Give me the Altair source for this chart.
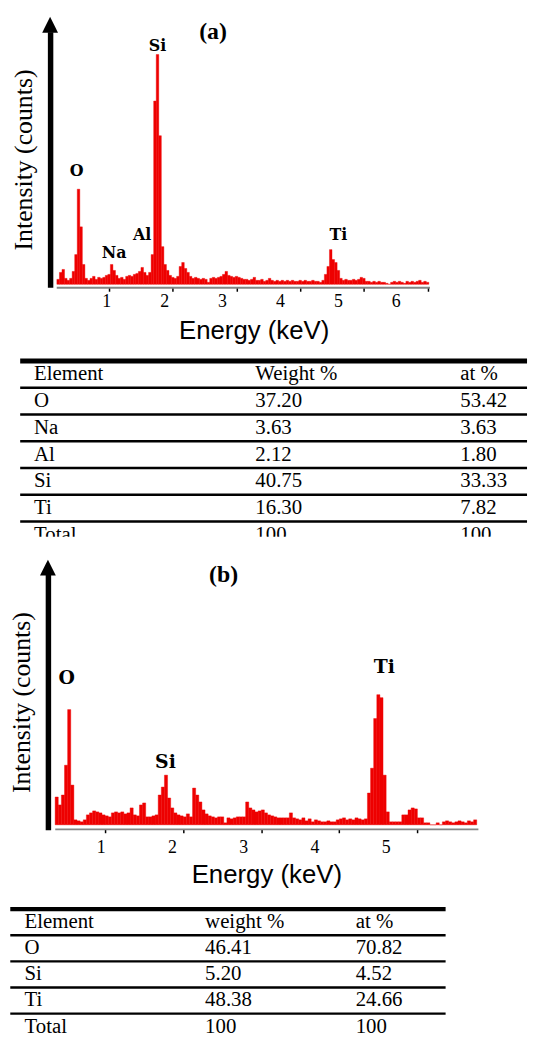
import altair as alt
import pandas as pd

RED = "#ee0000"
SERIF = "Liberation Serif"
SANS = "Liberation Sans"
PEAKFONT = "DejaVu Serif"

# ---------------- Spectrum (a) ----------------
a_e_start = 0.18      # keV, first channel
a_step = 0.04         # keV per channel
a_counts = [
    5, 12, 15, 6, 4, 6, 13, 30, 96, 58,
    20, 6, 4, 6, 8, 5, 7, 6, 7, 9,
    10, 20, 14, 9, 6, 7, 5, 8, 9, 8,
    10, 11, 13, 17, 12, 9, 12, 30, 185, 232,
    150, 38, 20, 14, 9, 7, 6, 8, 18, 22,
    16, 12, 8, 6, 7, 6, 5, 6, 5, 2,
    6, 7, 6, 7, 8, 10, 13, 9, 8, 7,
    8, 7, 6, 5, 5, 4, 5, 7, 4, 4,
    5, 3, 4, 6, 4, 3, 4, 3, 4, 3,
    4, 3, 4, 3, 3, 4, 3, 4, 3, 3,
    4, 3, 3, 2, 4, 10, 18, 35, 25, 22,
    14, 6, 4, 5, 4, 4, 5, 4, 5, 7,
    6, 3, 3, 2, 3, 2, 3, 2, 2, 1,
    0, 2, 3, 2, 3, 2, 1, 3, 2, 3,
    2, 3, 4, 2, 3, 2,
]
a_peak_labels = ["O", "Na", "Al", "Si", "Ti"]
a_peak_energy = [0.49, 1.08, 1.52, 1.76, 4.60]
a_peak_height = [114, 32, 50, 241, 50]
a_tick_labels = [1, 2, 3, 4, 5, 6]

# ---------------- Spectrum (b) ----------------
b_e_start = 0.36
b_step = 0.04
b_counts = [
    28, 20, 30, 60, 116, 40, 5, 4, 3, 5,
    10, 12, 14, 13, 12, 10, 9, 8, 12, 13,
    12, 13, 11, 12, 17, 10, 9, 20, 22, 8,
    8, 9, 10, 30, 38, 50, 27, 17, 12, 10,
    9, 8, 11, 8, 37, 30, 23, 15, 11, 9,
    8, 7, 8, 8, 2, 7, 6, 7, 8, 8,
    8, 23, 17, 15, 13, 14, 15, 12, 10, 9,
    8, 7, 7, 7, 7, 12, 7, 6, 5, 7,
    4, 6, 3, 5, 4, 3, 3, 4, 3, 3,
    5, 6, 7, 5, 6, 5, 7, 6, 5, 6,
    32, 57, 107, 131, 128, 50, 13, 3, 3, 3,
    3, 10, 10, 15, 17, 16, 7, 7, 2, 2,
    0, 0, 2, 0, 3, 4, 3, 2, 3, 4,
    3, 2, 4, 3, 5,
]
b_peak_labels = ["O", "Si", "Ti"]
b_peak_energy = [0.507, 1.773, 4.576]
b_peak_height = [148, 63, 159]
b_tick_labels = [1, 2, 3, 4, 5]

# ---------------- Tables ----------------
table_a_header = ["Element", "Weight %", "at %"]
table_a_elements = ["O", "Na", "Al", "Si", "Ti", "Total"]
table_a_weight = ["37.20", "3.63", "2.12", "40.75", "16.30", "100"]
table_a_at = ["53.42", "3.63", "1.80", "33.33", "7.82", "100"]

table_b_header = ["Element", "weight %", "at %"]
table_b_elements = ["O", "Si", "Ti", "Total"]
table_b_weight = ["46.41", "5.20", "48.38", "100"]
table_b_at = ["70.82", "4.52", "24.66", "100"]

W = 522
ARROW = "M0,-1L1,1L-1,1Z"


def spectrum_panel(counts, e_start, step, peak_lab, peak_e, peak_h, ticks,
                   xdom, xrng, ydom, yrng, height, x_axis_offset, arrow_x,
                   arrow_y, tag, tag_xy, title_x, title_y, tick_rng, tick_y,
                   peak_size):
    e0 = [round(e_start + step * i, 3) for i in range(len(counts))]
    df = pd.DataFrame({"E0": e0, "E1": [e + step for e in e0], "I": counts})
    xs = alt.Scale(domain=xdom, range=xrng, nice=False, zero=False)
    ys = alt.Scale(domain=ydom, range=yrng, nice=False, zero=False)

    spec = alt.Chart(df).mark_rect(color=RED, stroke=RED, strokeWidth=0.4).encode(
        x=alt.X("E0:Q", scale=xs, axis=alt.Axis(
            values=ticks, labels=False, grid=False, ticks=True, tickSize=4,
            tickColor="black", tickWidth=1.5, domainColor="#858585",
            domainWidth=1.8, offset=x_axis_offset, title="Energy (keV)",
            titleFont=SANS, titleFontSize=26, titleFontWeight="normal",
            titleColor="black", titleX=title_x, titleY=title_y,
            titleBaseline="alphabetic", titleAlign="center")),
        x2="E1:Q",
        y=alt.Y("I:Q", scale=ys, axis=alt.Axis(
            labels=False, ticks=False, grid=False, domainColor="black",
            domainWidth=5.5, offset=-arrow_x, title="Intensity (counts)",
            titleFont=SERIF, titleFontSize=26, titleFontWeight="normal",
            titleColor="black", titlePadding=14)),
        y2=alt.datum(0),
    )

    pk = pd.DataFrame({"el": peak_lab, "E": peak_e, "h": peak_h})
    peaks = alt.Chart(pk).mark_text(
        font=PEAKFONT, fontSize=peak_size, fontWeight="bold", color="black",
        baseline="middle", align="center").encode(
        x=alt.X("E:Q", scale=xs, axis=None),
        y=alt.Y("h:Q", scale=ys, axis=None),
        text="el:N")

    one = pd.DataFrame({"k": [0]})
    head = alt.Chart(one).mark_point(
        shape=ARROW, size=256, filled=True, color="black", opacity=1,
        strokeWidth=0).encode(x=alt.value(arrow_x), y=alt.value(arrow_y))

    lab = alt.Chart(one).mark_text(
        text=tag, font=SERIF, fontSize=24, fontWeight="bold", color="black",
        baseline="middle", align="center").encode(
        x=alt.value(tag_xy[0]), y=alt.value(tag_xy[1]))

    tk = pd.DataFrame({"v": ticks})
    tlab = alt.Chart(tk).mark_text(
        font=SERIF, fontSize=18, color="black", baseline="middle",
        align="center").encode(
        x=alt.X("v:Q", scale=alt.Scale(domain=[ticks[0], ticks[-1]],
                                       range=tick_rng, nice=False, zero=False),
                axis=None),
        y=alt.value(tick_y),
        text="v:N")

    return alt.layer(spec, peaks, head, lab, tlab).resolve_scale(
        x="independent", y="independent").properties(width=W, height=height)


def table_panel(header, elements, weight, at, row_rng, col_x, line_x, height,
                top_w):
    n = len(elements) + 1
    rows = list(range(n))
    df = pd.DataFrame({"row": rows,
                       "c0": [header[0]] + elements,
                       "c1": [header[1]] + weight,
                       "c2": [header[2]] + at})
    ys = alt.Scale(domain=[0, n - 1], range=row_rng, nice=False, zero=False)
    layers = []
    top = alt.Chart(pd.DataFrame({"b": [-0.5]})).mark_rule(
        color="black", strokeWidth=top_w).encode(
        x=alt.value(line_x[0]), x2=alt.value(line_x[1]),
        y=alt.Y("b:Q", scale=ys, axis=None))
    inner = alt.Chart(pd.DataFrame({"b": [r + 0.5 for r in rows[:-1]]})).mark_rule(
        color="black", strokeWidth=2.5).encode(
        x=alt.value(line_x[0]), x2=alt.value(line_x[1]),
        y=alt.Y("b:Q", scale=ys, axis=None))
    layers += [top, inner]
    for i, cx in enumerate(col_x):
        layers.append(alt.Chart(df).mark_text(
            font=SERIF, fontSize=21, color="black", align="left",
            baseline="middle", clip=True).encode(
            x=alt.value(cx), y=alt.Y("row:Q", scale=ys, axis=None),
            text=f"c{i}:N"))
    return alt.layer(*layers).properties(width=W, height=height)


p1 = spectrum_panel(
    a_counts, a_e_start, a_step, a_peak_labels, a_peak_energy, a_peak_height,
    a_tick_labels, xdom=[0.17, 6.03], xrng=[46.7, 423.5], ydom=[-3, 255],
    yrng=[277, 19], height=340, x_axis_offset=-63, arrow_x=40.5, arrow_y=12,
    tag="(a)", tag_xy=(205, 19), title_x=246, title_y=52,
    tick_rng=[97.7, 390], tick_y=292, peak_size=16)

p2 = table_panel(table_a_header, table_a_elements, table_a_weight, table_a_at,
                 row_rng=[25, 187], col_x=[24.3, 247.7, 454.6],
                 line_x=[10.3, 522], height=189, top_w=5)

p3 = spectrum_panel(
    b_counts, b_e_start, b_step, b_peak_labels, b_peak_energy, b_peak_height,
    b_tick_labels, xdom=[0.355, 5.775], xrng=[45.2, 472.4], ydom=[-5, 252],
    yrng=[295.7, 38], height=362, x_axis_offset=-67.3, arrow_x=38.3, arrow_y=31,
    tag="(b)", tag_xy=(215.7, 39), title_x=258.8, title_y=54,
    tick_rng=[92.2, 379.8], tick_y=314, peak_size=19)

p4 = table_panel(table_b_header, table_b_elements, table_b_weight, table_b_at,
                 row_rng=[27, 132.5], col_x=[14.7, 197, 349],
                 line_x=[0.3, 439.8], height=140, top_w=4.5)

chart = alt.vconcat(p1, p2, p3, p4, spacing=0, bounds="flush").properties(
    padding=0, background="white").configure_view(stroke=None)

chart.save("out.html", embed_options={"renderer": "svg", "actions": False})
